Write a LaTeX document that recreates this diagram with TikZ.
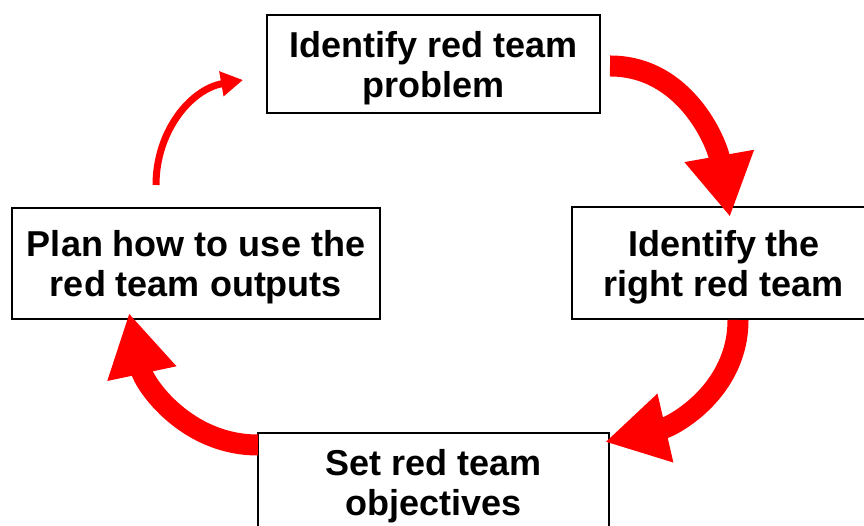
\documentclass[tikz,border=0pt]{standalone}
\usepackage{fontspec}
\setmainfont{Liberation Sans}
\usetikzlibrary{arrows.meta}

\begin{document}
\begin{tikzpicture}[x=1pt, y=1pt,
  box/.style={draw, line width=1.5pt, align=center, inner sep=0pt, text depth=0pt,
    font=\bfseries\fontsize{36}{40}\selectfont},
  bigarrow/.style={red, line width=21pt, -{Triangle[length=62pt, width=66pt]}},
  thinarrow/.style={red, line width=7pt, -{Triangle[length=22pt, width=24pt]}}]
\useasboundingbox (0,0) rectangle (864,526);
% the four steps
\node [box, minimum width=333pt, minimum height=98pt] (prob) at (433.5,462) {Identify red team\\problem};
\node [box, minimum width=304pt, minimum height=112pt] (team) at (724,263) {Identify the\\right red team};
\node [box, minimum width=351pt, minimum height=98pt] (obj) at (433.5,44) {Set red team\\objectives};
\node [box, minimum width=368pt, minimum height=111pt] (plan) at (196,262.5) {Plan how to use the\\red team outputs};
% arrow ends
\coordinate (a1s) at (610,460);
\coordinate (a1e) at (730,309);
\coordinate (a2s) at (738,206);
\coordinate (a2e) at (605,84);
\coordinate (a3s) at (258,81);
\coordinate (a3e) at (129,213);
\coordinate (a4s) at (156,341);
\coordinate (a4e) at (243,446);
% cycle
\draw [bigarrow] (a1s) to [out=0, in=100] (a1e);
\draw [bigarrow] (a2s) to [out=-90, in=13] (a2e);
\draw [bigarrow] (a3s) to [out=180, in=-78] (a3e);
\draw [thinarrow] (a4s) to [out=90, in=190] (a4e);
\end{tikzpicture}
\end{document}
